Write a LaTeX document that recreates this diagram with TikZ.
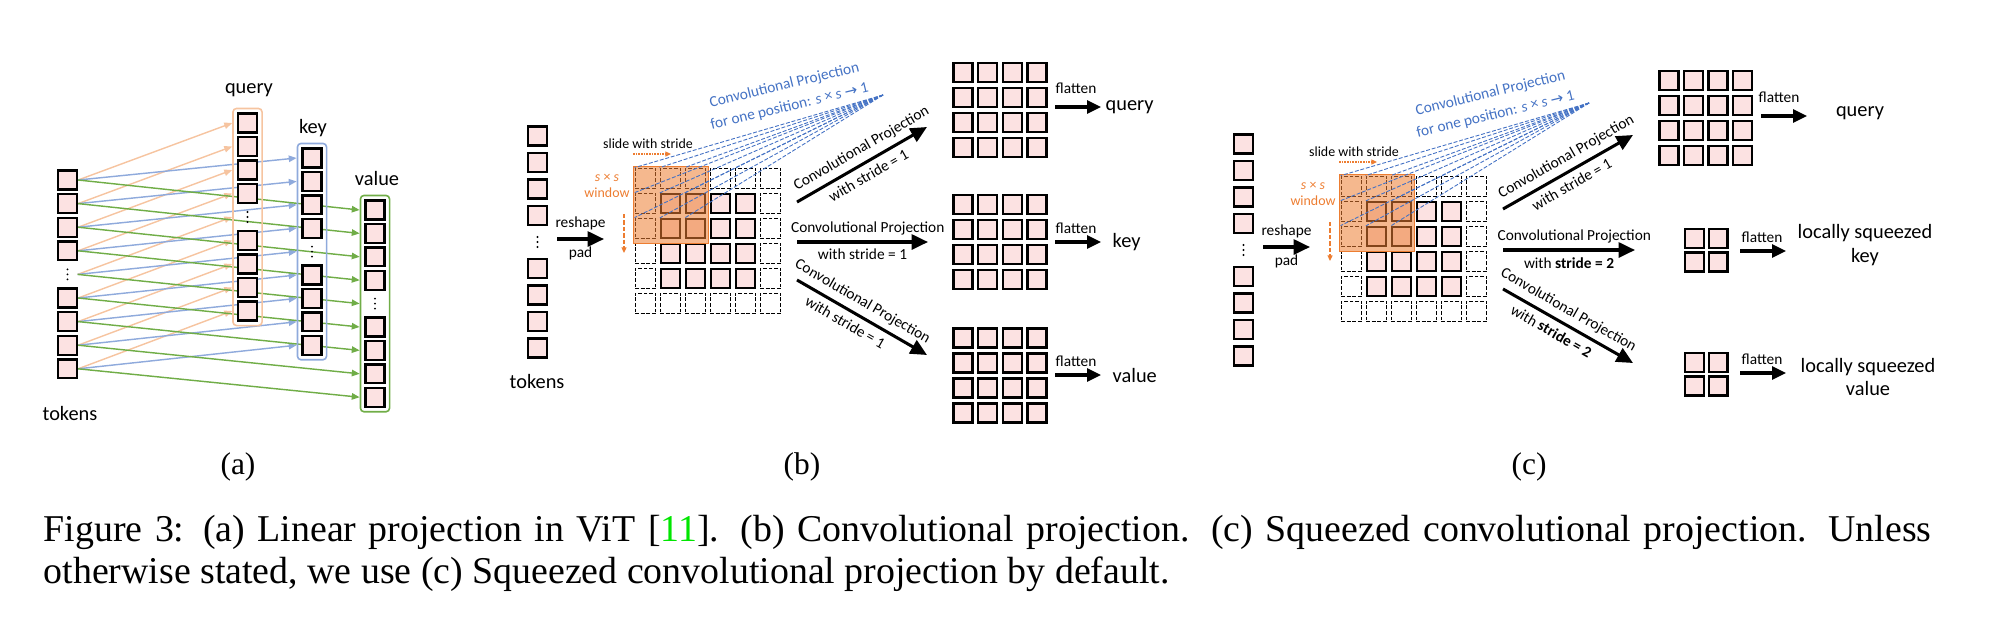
\documentclass[tikz,border=0pt]{standalone}
\usepackage{fontspec}
\setmainfont{Liberation Serif}
\newfontfamily\calib{Carlito}
\newfontfamily\symfont{DejaVu Sans}
\usetikzlibrary{arrows.meta,positioning,fit,backgrounds}

\definecolor{cellpink}{RGB}{252,226,226}
\definecolor{qorange}{RGB}{246,196,160}
\definecolor{kblue}{RGB}{143,170,220}
\definecolor{vgreen}{RGB}{112,173,71}
\definecolor{winorange}{RGB}{237,125,49}
\definecolor{projblue}{RGB}{68,114,196}
\definecolor{citegreen}{RGB}{0,230,0}

\newcommand\labfont{\calib\fontsize{5.7}{6.7}\selectfont}
\newcommand\projfont{\calib\fontsize{4.3}{5}\selectfont}
\newcommand\tinyfont{\calib\fontsize{3.9}{4.6}\selectfont}
\newcommand\bluefont{\calib\fontsize{4.3}{6.1}\selectfont}

\tikzset{
  cell/.style={draw, fill=cellpink, line width=0.65pt, minimum size=5.3pt, inner sep=0pt},
  padcell/.style={draw, line width=0.3pt, dash pattern=on 1.1pt off 0.45pt, minimum size=5.8pt, inner sep=0pt},
  gap/.style={minimum size=5.3pt, inner sep=0pt},
  colbox/.style={draw=#1, rounded corners=1pt, line width=0.45pt, inner sep=1.1pt},
  linarrow/.style={->, >={Triangle[length=2.2pt,width=1.8pt]}, draw=#1, line width=0.4pt},
  bigarrow/.style={->, >={Triangle[length=4.6pt,width=4.2pt]}, line width=0.85pt},
  slidearrow/.style={->, >={Triangle[length=1.6pt,width=1.4pt]}, draw=winorange, line width=0.35pt},
  window/.style={draw=winorange, line width=0.35pt, fill=winorange, fill opacity=0.55},
  projline/.style={draw=projblue, line width=0.25pt, dash pattern=on 1.1pt off 0.5pt},
  lab/.style={font=\labfont, inner sep=0pt},
  plab/.style={font=\projfont, sloped, inner sep=1.6pt}
}

\begin{document}
\begin{tikzpicture}[x=0.28pt, y=-0.28pt]
  \useasboundingbox (0,0) rectangle (2004,622);

  % (a) Draw token, query, key and value columns
  \foreach \k in {1,...,9} {
    \ifnum\k=5 \tikzset{rowcell/.style={gap}}\else\tikzset{rowcell/.style={cell}}\fi
    \node[rowcell] (tk\k) at (67.5,{180+23.6*(\k-1)}) {};
    \node[rowcell] (q\k) at (247.5,{123+23.5*(\k-1)}) {};
    \node[rowcell] (k\k) at (312,{158+23.4*(\k-1)}) {};
    \node[rowcell] (v\k) at (375,{210+23.4*(\k-1)}) {};
  }
  \foreach \n in {tk5,q5,k5,v5}
    \foreach \d in {-1.4,0,1.4}
      \fill ([yshift=\d pt]\n.center) circle (0.3pt);
  \node[colbox=qorange, fit=(q1)(q9)] (qcol) {};
  \node[colbox=kblue, fit=(k1)(k9)] (kcol) {};
  \node[colbox=vgreen, fit=(v1)(v9)] (vcol) {};
  \node[lab] (qlab) at (249,90) {query};
  \node[lab] (klab) at (313,128) {key};
  \node[lab] (vlab) at (377,179) {value};
  \node[lab] (tklab) at (70,413) {tokens};

  % (a) Draw linear projections
  \begin{scope}[on background layer]
    \foreach \k in {1,...,9} \draw[linarrow=qorange] (tk\k.east) -- (qcol.west |- q\k);
    \foreach \k in {1,...,9} \draw[linarrow=kblue] (tk\k.east) -- (kcol.west |- k\k);
    \foreach \k in {1,...,9} \draw[linarrow=vgreen] (tk\k.east) -- (vcol.west |- v\k);
  \end{scope}

  % (b) and (c) Draw tokens, padded grid and window
  \foreach \ox/\oy/\p in {0/0/b,706/8/c} {
    \begin{scope}[shift={(\ox,\oy)}]
      \foreach \k in {1,...,9} {
        \ifnum\k=5 \tikzset{rowcell/.style={gap}}\else\tikzset{rowcell/.style={cell}}\fi
        \node[rowcell] (\p tk\k) at (537.5,{136+26.5*(\k-1)}) {};
      }
      \foreach \d in {-1.4,0,1.4} \fill ([yshift=\d pt]\p tk5.center) circle (0.3pt);
      \coordinate (\p rs0) at (557,239);
      \coordinate (\p rs1) at (604,239);
      \draw[bigarrow] (\p rs0) -- node[above, font=\projfont, inner sep=2.2pt] {reshape}
        node[below, font=\projfont, inner sep=1.8pt] {pad} (\p rs1);
      \foreach \r in {0,...,5} \foreach \c in {0,...,5} {
        \pgfmathtruncatemacro\pad{or(or(\r==0,\r==5),or(\c==0,\c==5))}
        \ifnum\pad=1 \tikzset{rowcell/.style={padcell}}\else\tikzset{rowcell/.style={cell}}\fi
        \node[rowcell] (\p g\r\c) at ({645.5+25*\c},{178.5+25*\r}) {};
      }
      \draw[window] ([shift={(-1,-1)}]\p g00.north west) rectangle ([shift={(2.5,4)}]\p g22.south east);
      \node[font=\tinyfont, text=winorange, align=center] (\p wlab) at (607,186) {{\itshape s} × {\itshape s}\\window};
      \coordinate (\p sd0) at (624,214);
      \coordinate (\p sd1) at (624,253);
      \draw[slidearrow, dash pattern=on 1.2pt off 0.6pt] (\p sd0) -- (\p sd1);
      \node[font=\tinyfont] (\p slab) at (648,144) {slide with stride};
      \coordinate (\p sr0) at (633,154);
      \coordinate (\p sr1) at (671,154);
      \draw[slidearrow, dash pattern=on 0.45pt off 0.3pt] (\p sr0) -- (\p sr1);
      % projection of one position
      \node[font=\bluefont, text=projblue, rotate=13.7, align=center] (\p ptxt) at (787,96)
        {Convolutional Projection\\for one position: {\itshape s} × {\itshape s} {\symfont →} 1};
      \coordinate (\p apex) at (883,95);
      \foreach \r in {0,1,2} \foreach \c in {0,1,2}
        \draw[projline] (\p apex) -- (\p g\r\c.north west);
    \end{scope}
  }
  \node[lab] (btklab) at (537,381) {tokens};

  % (b) Draw projections with stride 1
  \coordinate (bu0) at (797,202); \coordinate (bu1) at (927,127);
  \coordinate (bm0) at (797,242); \coordinate (bm1) at (928,242);
  \coordinate (bl0) at (797,280); \coordinate (bl1) at (927,355);
  \draw[bigarrow] (bu0) -- node[plab, above, pos=0.55] {Convolutional Projection}
    node[plab, below] {with stride = 1} (bu1);
  \draw[bigarrow] (bm0) -- node[plab, above, pos=0.54] {Convolutional Projection}
    node[plab, below] {with stride = 1} (bm1);
  \draw[bigarrow] (bl0) -- node[plab, above, pos=0.45] {Convolutional Projection}
    node[plab, below, pos=0.42] {with stride = 1} (bl1);
  \foreach \g/\y in {q/72.5,k/204.5,v/338}
    \foreach \r in {0,...,3} \foreach \c in {0,...,3}
      \node[cell] (b\g\r\c) at ({963+24.7*\c},{\y+25*\r}) {};
  \foreach \g/\y/\fy/\tx/\t in {q/107/88/1105/query,k/242/228/1112/key,v/375/361/1112/value} {
    \coordinate (b\g f0) at (1055,\y);
    \coordinate (b\g f1) at (1101,\y);
    \draw[bigarrow, >={Triangle[length=3.9pt,width=3.6pt]}] (b\g f0) -- (b\g f1);
    \node[font=\projfont] (b\g flab) at (1076,\fy) {flatten};
    \node[lab, anchor=west] (b\g out) at (\tx,\y) {\t};
  }

  % (c) Draw squeezed projections
  \coordinate (cu0) at (1503,209); \coordinate (cu1) at (1633,135);
  \coordinate (cm0) at (1503,250); \coordinate (cm1) at (1635,250);
  \coordinate (cl0) at (1503,289); \coordinate (cl1) at (1633,363);
  \draw[bigarrow] (cu0) -- node[plab, above, pos=0.54] {Convolutional Projection}
    node[plab, below, pos=0.48] {with stride = 1} (cu1);
  \draw[bigarrow] (cm0) -- node[plab, above, pos=0.54] {Convolutional Projection}
    node[plab, below] {with \textbf{stride = 2}} (cm1);
  \draw[bigarrow] (cl0) -- node[plab, above, pos=0.45] {Convolutional Projection}
    node[plab, below, pos=0.42] {with \textbf{stride = 2}} (cl1);
  \foreach \r in {0,...,3} \foreach \c in {0,...,3}
    \node[cell] (cq\r\c) at ({1669+24.5*\c},{80.5+25*\r}) {};
  \foreach \g/\y in {k/238.5,v/362.5}
    \foreach \r in {0,1} \foreach \c in {0,1}
      \node[cell] (c\g\r\c) at ({1694.5+23.6*\c},{\y+23.6*\r}) {};
  \coordinate (cqf0) at (1761,116); \coordinate (cqf1) at (1807,116);
  \coordinate (ckf0) at (1740,251); \coordinate (ckf1) at (1786,251);
  \coordinate (cvf0) at (1740,373); \coordinate (cvf1) at (1786,373);
  \foreach \g in {q,k,v}
    \draw[bigarrow, >={Triangle[length=3.9pt,width=3.6pt]}] (c\g f0) -- (c\g f1);
  \node[font=\projfont] (cqflab) at (1779,97) {flatten};
  \node[font=\projfont] (ckflab) at (1762,237) {flatten};
  \node[font=\projfont] (cvflab) at (1762,359) {flatten};
  \node[lab] (cqout) at (1860,113) {query};
  \node[lab, align=center] (ckout) at (1865,245) {locally squeezed\\key};
  \node[lab, align=center] (cvout) at (1868,377) {locally squeezed\\value};

  % Sub-captions and caption
  \node[font=\fontsize{8.8}{10}\selectfont] (suba) at (238,467) {(a)};
  \node[font=\fontsize{8.8}{10}\selectfont] (subb) at (802,467) {(b)};
  \node[font=\fontsize{8.8}{10}\selectfont] (subc) at (1529,467) {(c)};
  \node[anchor=base west, text width=528.6pt, align=justify, inner sep=0pt,
    font=\fontsize{10.6}{12}\selectfont] (caption) at (43,541)
    {Figure 3: (a) Linear projection in ViT [\textcolor{citegreen}{11}]. (b) Convolutional projection. (c) Squeezed convolutional projection. Unless\linebreak
     otherwise stated, we use (c) Squeezed convolutional projection by default.};
\end{tikzpicture}
\end{document}
